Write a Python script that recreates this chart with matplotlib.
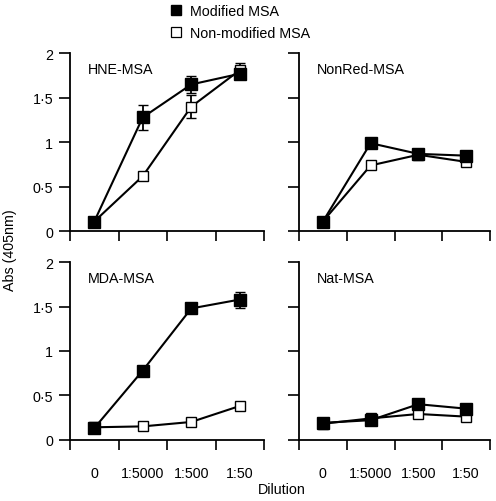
# ELISA absorbance vs dilution, four antigen panels
import matplotlib
matplotlib.use("Agg")
import matplotlib.pyplot as plt
from matplotlib.lines import Line2D

plt.rcParams["font.family"] = ["Liberation Sans", "DejaVu Sans"]
plt.rcParams["font.size"] = 10.3

# ---- DATA ----
dilutions = ["0", "1:5000", "1:500", "1:50"]
panels = ["HNE-MSA", "NonRed-MSA", "MDA-MSA", "Nat-MSA"]

hne_mod = [0.11, 1.28, 1.65, 1.77]
hne_mod_err = [0.0, 0.14, 0.10, 0.05]
hne_non = [0.11, 0.62, 1.40, 1.81]
hne_non_err = [0.0, 0.03, 0.13, 0.08]

nonred_mod = [0.11, 0.99, 0.87, 0.85]
nonred_mod_err = [0.0, 0.0, 0.0, 0.0]
nonred_non = [0.11, 0.74, 0.86, 0.78]
nonred_non_err = [0.0, 0.0, 0.0, 0.0]

mda_mod = [0.13, 0.78, 1.48, 1.58]
mda_mod_err = [0.0, 0.0, 0.04, 0.09]
mda_non = [0.14, 0.15, 0.20, 0.38]
mda_non_err = [0.0, 0.0, 0.0, 0.04]

nat_mod = [0.19, 0.22, 0.40, 0.35]
nat_mod_err = [0.0, 0.0, 0.0, 0.0]
nat_non = [0.18, 0.24, 0.29, 0.26]
nat_non_err = [0.0, 0.0, 0.0, 0.0]

series = [
    (hne_mod, hne_mod_err, hne_non, hne_non_err),
    (nonred_mod, nonred_mod_err, nonred_non, nonred_non_err),
    (mda_mod, mda_mod_err, mda_non, mda_non_err),
    (nat_mod, nat_mod_err, nat_non, nat_non_err),
]

W, H = 496, 502
fig = plt.figure(figsize=(W / 100, H / 100), dpi=100)

# axes boxes in pixels: left, top, right, bottom
boxes = [
    (70, 54.3, 264, 232.3),
    (299, 54.3, 490, 232.3),
    (70, 263.3, 264, 440.7),
    (299, 263.3, 490, 440.7),
]

xs = [0.5, 1.5, 2.5, 3.5]

for i, (name, (m, me, n, ne), box) in enumerate(zip(panels, series, boxes)):
    l, t, r, b = box
    ax = fig.add_axes([l / W, 1 - b / H, (r - l) / W, (b - t) / H])
    ax.errorbar(xs, n, yerr=ne, color="black", lw=1.5, marker="s",
                ms=7.5, mfc="white", mec="black", mew=1.0,
                capsize=3.5, elinewidth=1.3, zorder=2)
    ax.errorbar(xs, m, yerr=me, color="black", lw=1.5, marker="s",
                ms=8.5, mfc="black", mec="black",
                capsize=3.5, elinewidth=1.3, zorder=3)
    ax.set_xlim(0, 4)
    ax.set_ylim(0, 2)
    for s in ["top", "right"]:
        ax.spines[s].set_visible(False)
    for s in ["left", "bottom"]:
        ax.spines[s].set_linewidth(1.3)
    ax.set_xticks([0, 1, 2, 3, 4])
    ax.set_xticklabels([])
    ax.tick_params(axis="x", which="major", direction="out", length=7, width=1.2)
    ax.set_yticks([0, 0.5, 1, 1.5, 2])
    ax.tick_params(axis="y", direction="out", length=8, width=1.2, pad=4)
    if i % 2 == 0:
        ax.set_yticklabels(["0", "0·5", "1", "1·5", "2"])
    else:
        ax.set_yticklabels([])
    if i >= 2:
        ax.set_xticks(xs, minor=True)
        ax.set_xticklabels(dilutions, minor=True)
        ax.tick_params(axis="x", which="minor", length=0, pad=19)
    ax.text(0.093, 0.91, name, transform=ax.transAxes, ha="left", va="center")

fig.text(10 / W, 1 - 250 / H, "Abs (405nm)", rotation=90, ha="center", va="center")
fig.text(282 / W, 1 - 490 / H, "Dilution", ha="center", va="center")

handles = [
    Line2D([], [], ls="none", marker="s", ms=7, mfc="black", mec="black"),
    Line2D([], [], ls="none", marker="s", ms=7, mfc="white", mec="black", mew=0.9),
]
fig.legend(handles, ["Modified MSA", "Non-modified MSA"],
           loc="upper left", bbox_to_anchor=(161 / W, 1 + 3 / H),
           frameon=False, handlelength=1.0, handletextpad=0.45,
           labelspacing=0.6, borderpad=0.05)

fig.savefig("out.png", dpi=100)
